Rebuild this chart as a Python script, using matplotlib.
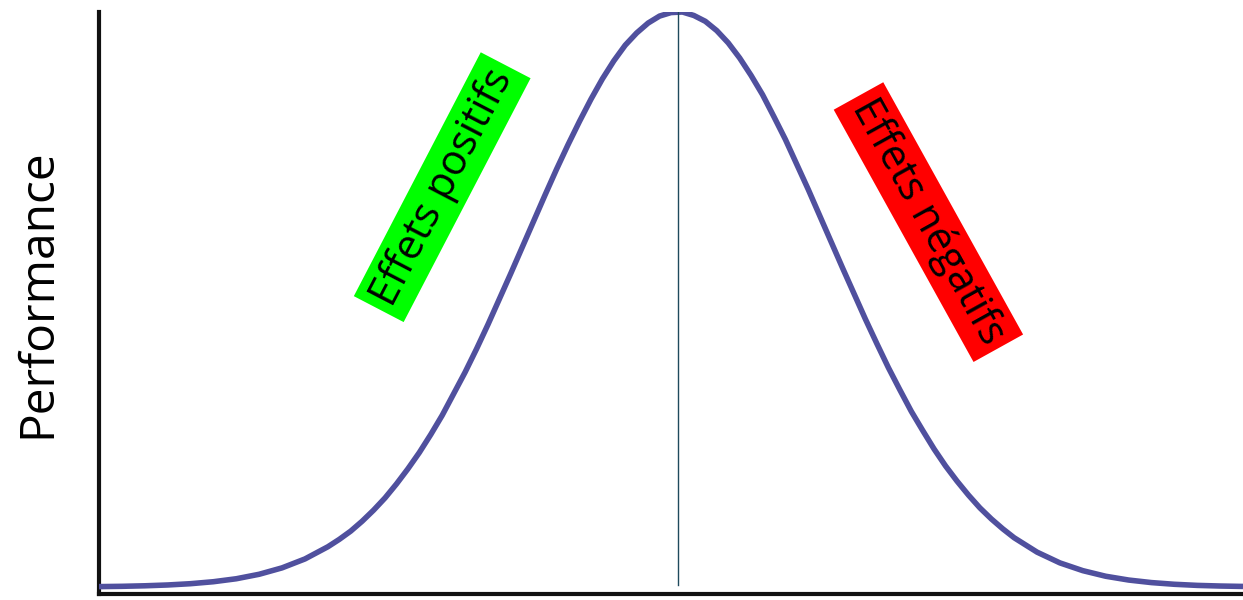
import matplotlib
matplotlib.use("Agg")
import matplotlib.pyplot as plt

# Stress level (arbitrary units, 0-100) and performance (arbitrary units, 0-100)
stress = [0, 2, 4, 6, 8, 10, 12, 14, 16, 18, 20, 21, 22, 23, 24, 25, 26, 27, 28, 29, 30,
          31, 32, 33, 34, 35, 36, 37, 38, 39, 40, 41, 42, 43, 44, 45, 46, 47, 48, 49, 50,
          51, 52, 53, 54, 55, 56, 57, 58, 59, 60, 61, 62, 63, 64, 65, 66, 67, 68, 69, 70,
          71, 72, 73, 74, 75, 76, 77, 78, 79, 80, 82, 84, 86, 88, 90, 92, 94, 96, 98, 100]
performance = [1.27, 1.32, 1.41, 1.55, 1.77, 2.11, 2.62, 3.39, 4.49, 6.02, 8.11, 9.38, 10.8,
               12.5, 14.4, 16.5, 18.9, 21.5, 24.3, 27.4, 30.7, 34.4, 38.1, 42.1, 46.3, 50.7,
               55.1, 59.6, 64.1, 68.6, 73.0, 77.2, 81.2, 85.0, 88.5, 91.6, 94.3, 96.4, 98.1,
               99.3, 99.9, 100.0, 99.4, 98.4, 96.8, 94.7, 92.1, 89.1, 85.8, 82.0, 78.1, 73.8,
               69.5, 65.0, 60.5, 56.0, 51.6, 47.2, 43.0, 38.9, 35.1, 31.4, 28.1, 24.9, 22.0,
               19.4, 17.0, 14.8, 12.9, 11.2, 9.66, 7.19, 5.34, 4.01, 3.05, 2.40, 1.96, 1.67,
               1.48, 1.37, 1.30]
optimum_x = 50.6
ylabel = "Performance"
label_pos = "Effets positifs"
label_neg = "Effets négatifs"

plt.rcParams['font.family'] = ['Open Sans', 'DejaVu Sans']

fig = plt.figure(figsize=(12.43, 6.0), dpi=100)
ax = fig.add_axes([99 / 1243, 6 / 600, 1 - 99 / 1243, (594 - 12) / 600])
ax.set_xlim(0, 100)
ax.set_ylim(0, 100)

ax.plot(stress, performance, color='#50509E', lw=4.0, solid_capstyle='butt',
        solid_joinstyle='round', zorder=3)
ax.plot([optimum_x, optimum_x], [1.5, 100], color='#1F4A5C', lw=1.0, zorder=4)

for s in ['top', 'right']:
    ax.spines[s].set_visible(False)
for s in ['left', 'bottom']:
    ax.spines[s].set_linewidth(3.0)
    ax.spines[s].set_color('#111111')
ax.set_xticks([])
ax.set_yticks([])

fig.text(38 / 1243, 0.512, ylabel, rotation=90, ha='center', va='center', fontsize=34.5, color='black')

ax.text(30.0, 69.9, label_pos, rotation=62.5, rotation_mode='anchor', ha='center', va='center',
        fontsize=30, color='black', zorder=5,
        bbox=dict(boxstyle='square,pad=0.17', facecolor='#00FF00', edgecolor='none'))
ax.text(72.5, 63.9, label_neg, rotation=-61, rotation_mode='anchor', ha='center', va='center',
        fontsize=30, color='black', zorder=5,
        bbox=dict(boxstyle='square,pad=0.17', facecolor='#FF0000', edgecolor='none'))

fig.savefig('out.png', dpi=100, facecolor='white')
